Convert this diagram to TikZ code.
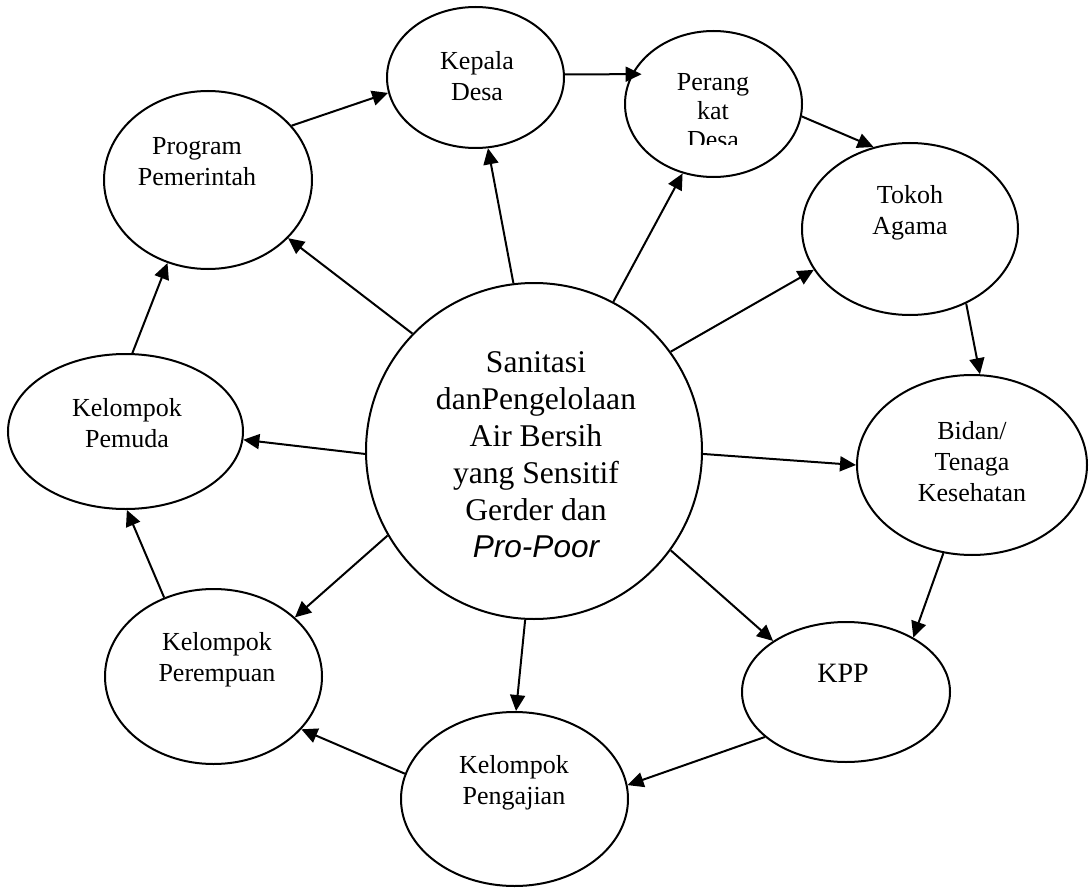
\documentclass[tikz,border=0pt]{standalone}
\usepackage{fontspec}
\setmainfont{Liberation Serif}
\setsansfont{Liberation Sans}
\usetikzlibrary{arrows.meta,shapes.geometric}
\begin{document}
\begin{tikzpicture}[x=1pt,y=-1pt,
  ell/.style={ellipse,draw,line width=2pt,inner sep=0pt},
  lbl/.style={align=center,font=\fontsize{26}{31}\selectfont,inner sep=0pt},
  arr/.style={-{Triangle[length=16pt,width=15pt]},line width=2pt}]
\useasboundingbox (0,0) rectangle (1090,888);
% ellipses
\node[ell,minimum width=336pt,minimum height=336pt] (C) at (534,451) {};
\node[ell,minimum width=177pt,minimum height=141pt] (K) at (475.5,77.5) {};
\node[ell,minimum width=177pt,minimum height=146pt] (PD) at (713.5,104) {};
\node[ell,minimum width=208pt,minimum height=178pt] (PP) at (208,180) {};
\node[ell,minimum width=216pt,minimum height=172pt] (TA) at (910,229) {};
\node[ell,minimum width=235pt,minimum height=155pt] (KPm) at (125.5,431.5) {};
\node[ell,minimum width=230pt,minimum height=180pt] (BT) at (972,465) {};
\node[ell,minimum width=217pt,minimum height=175pt] (KPr) at (213.5,676.5) {};
\node[ell,minimum width=208pt,minimum height=140pt] (KPP) at (846,692) {};
\node[ell,minimum width=227pt,minimum height=174pt] (KPg) at (514.5,799) {};
% labels
\node[lbl,font=\fontsize{31.6}{37}\selectfont] (tC) at (536,455)
  {Sanitasi\\danPengelolaan\\Air Bersih\\yang Sensitif\\Gerder dan\\{\sffamily\itshape Pro-Poor}};
\node[lbl] (tK) at (477,76) {Kepala\\Desa};
\begin{scope}
\clip (600,0) rectangle (830,145);
\node[lbl,font=\fontsize{26}{29}\selectfont] (tPD) at (713,111) {Perang\\kat\\Desa};
\end{scope}
\node[lbl] (tPP) at (197,162) {Program\\Pemerintah};
\node[lbl] (tTA) at (910,213) {Tokoh\\Agama};
\node[lbl] (tKPm) at (127,423) {Kelompok\\Pemuda};
\node[lbl] (tBT) at (972,462) {Bidan/\\Tenaga\\Kesehatan};
\node[lbl] (tKPr) at (217,660) {Kelompok\\Perempuan};
\node[lbl,font=\fontsize{28}{32}\selectfont] (tKPP) at (843,673) {KPP};
\node[lbl] (tKPg) at (514,783) {Kelompok\\Pengajian};
% connectors
\draw[arr] (PP.33) -- (K.190);
\draw[arr,shorten >=-10pt] (K.2) -- (PD.160);
\draw[arr] (PD.-8) -- (TA.114);
\draw[arr] (C.97) -- (K.-80.5);
\draw[arr] (C.62.4) -- (PD.246.2);
\draw[arr] (C.36.5) -- (TA.203.8);
\draw[arr] (TA.-53.2) -- (BT.85);
\draw[arr] (C.-1) -- (BT.180);
\draw[arr] (BT.252) -- (KPP.39.3);
\draw[arr] (C.-36) -- (KPP.145.8);
\draw[arr] (KPP.209.5) -- (KPg.7.1);
\draw[arr] (C.267) -- (KPg.89);
\draw[arr] (KPg.167.9) -- (KPr.-31.7);
\draw[arr] (C.210.5) -- (KPr.36.1);
\draw[arr] (KPr.122.3) -- (KPm.271.7);
\draw[arr] (C.181) -- (KPm.-4);
\draw[arr] (KPm.85.4) -- (PP.244);
\draw[arr] (C.136.2) -- (PP.-36.1);
\end{tikzpicture}
\end{document}
